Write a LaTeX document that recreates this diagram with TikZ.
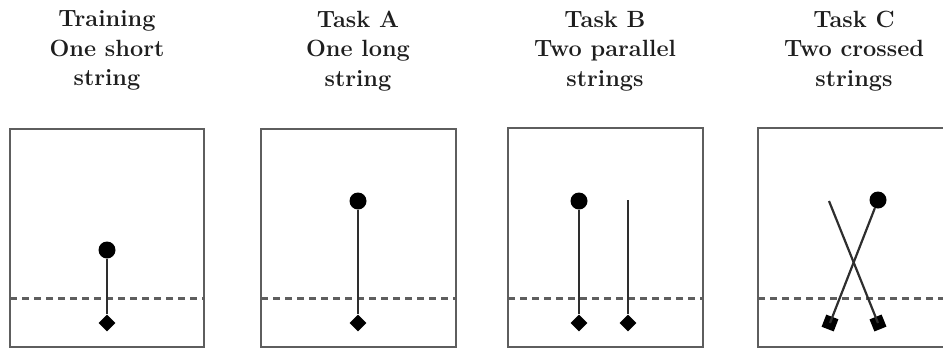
\documentclass[tikz,border=0pt]{standalone}
\usetikzlibrary{shapes.geometric}
\definecolor{boxgray}{HTML}{5E5E5E}
\definecolor{strgray}{HTML}{2E2E2E}
\definecolor{txt}{HTML}{1E1E1E}
\tikzset{
  panel/.style={draw=boxgray, line width=2.5pt},
  midline/.style={draw=boxgray, line width=2.3pt, dash pattern=on 7pt off 5pt},
  strline/.style={draw=strgray, line width=2.2pt},
  bead/.style={circle, fill=black, inner sep=0pt, minimum size=17pt},
  anchorpt/.style={diamond, fill=black, inner sep=0pt, minimum size=17pt},
  sqpt/.style={rectangle, fill=black, inner sep=0pt, minimum size=13pt},
  heading/.style={align=center, anchor=north, inner sep=0pt, text=txt,
    font={\fontsize{23.5}{29.5}\selectfont\bfseries}}
}
\begin{document}
\begin{tikzpicture}[x=1pt, y=-1pt]
\useasboundingbox (0,0) rectangle (943,349);
% headings
\node[heading] (h1) at (107,10.5) {Training\\One short\\string};
\node[heading] (h2) at (358,10.5) {Task A\\One long\\string};
\node[heading] (h3) at (605,10.5) {Task B\\Two parallel\\strings};
\node[heading] (h4) at (854,10.5) {Task C\\Two crossed\\strings};
% panels
\draw[panel] (10,129) rectangle (204,347);
\draw[panel] (261,129) rectangle (456,347);
\draw[panel] (508,128) rectangle (703,347);
\draw[panel] (943,128) -- (758,128) -- (758,347) -- (943,347);
% dashed lines
\draw[midline] (10,298.5) -- (204,298.5);
\draw[midline] (261,298.5) -- (456,298.5);
\draw[midline] (508,298.5) -- (703,298.5);
\draw[midline] (758,298.5) -- (943,298.5);
% Training
\node[bead] (t1b) at (107,250) {};
\node[anchorpt] (t1d) at (107,323) {};
\draw[strline] (t1b) -- (t1d);
% Task A
\node[bead] (tab) at (358,201) {};
\node[anchorpt] (tad) at (358,323) {};
\draw[strline] (tab) -- (tad);
% Task B
\node[bead] (tbb) at (579,201) {};
\node[anchorpt] (tbd1) at (579,323) {};
\coordinate (tbtop) at (628,200);
\node[anchorpt] (tbd2) at (628,323) {};
\draw[strline] (tbb) -- (tbd1);
\draw[strline] (tbtop) -- (tbd2);
% Task C
\coordinate (tctop) at (829,201);
\node[bead] (tcb) at (878,200) {};
\node[sqpt, rotate=22] (tcs1) at (878,323) {};
\node[sqpt, rotate=-21] (tcs2) at (830,323) {};
\draw[strline] (tctop) -- (tcs1.center);
\draw[strline] (tcb) -- (tcs2.center);
\end{tikzpicture}
\end{document}
